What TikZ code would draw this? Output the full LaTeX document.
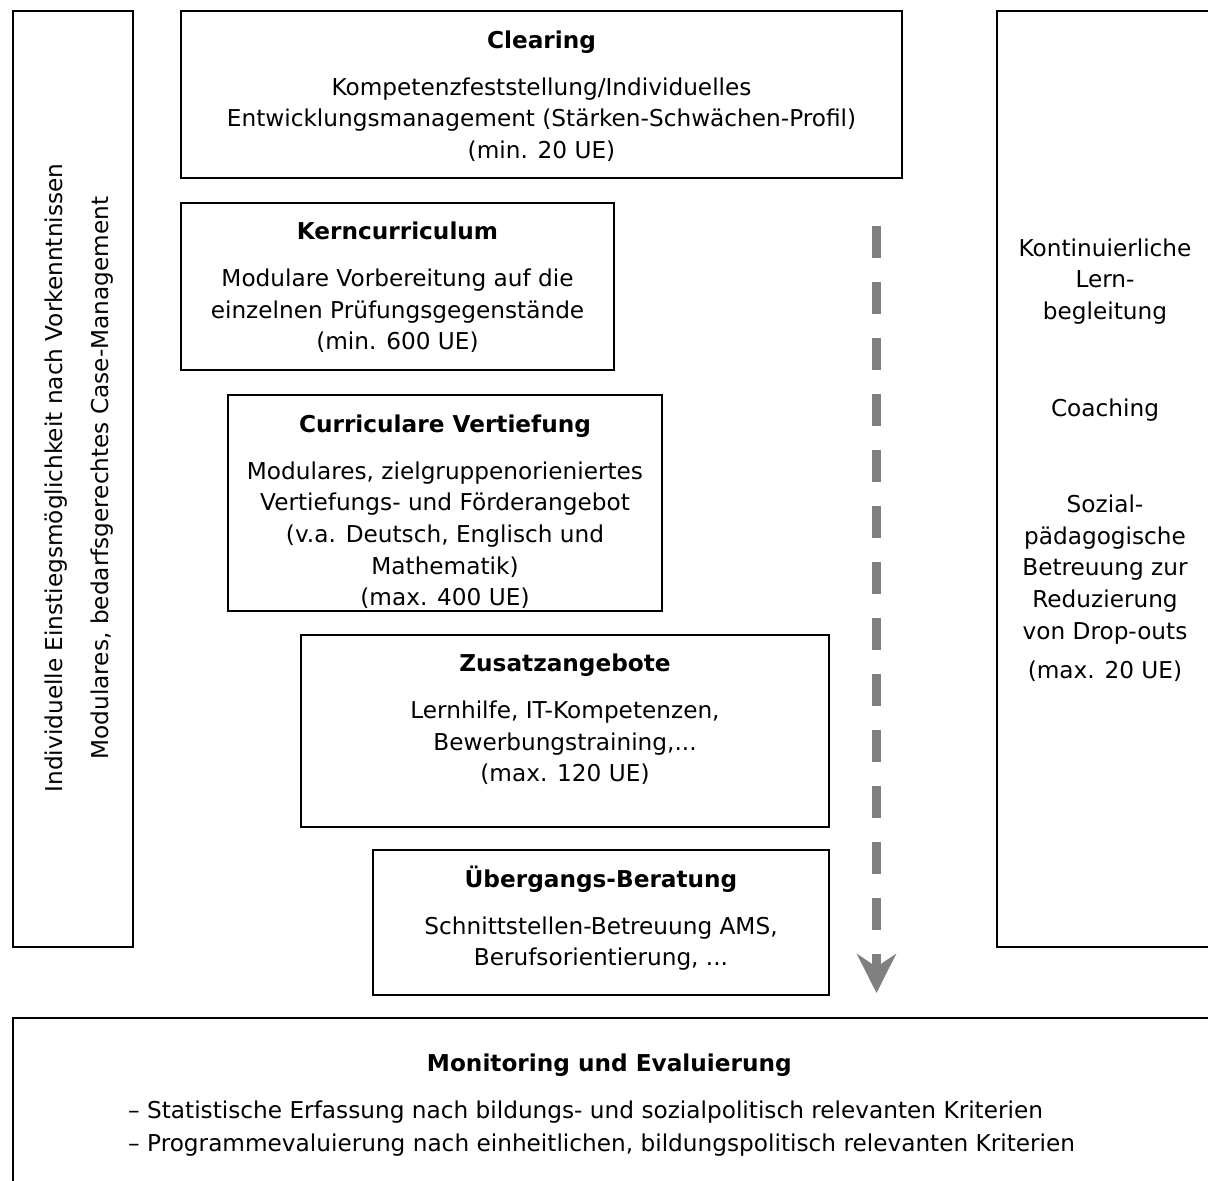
\documentclass[tikz,border=0pt]{standalone}
\usepackage{fontspec}
\setmainfont{DejaVu Sans}
\usepackage{tikz}
\usetikzlibrary{positioning, arrows.meta}

\newcommand{\firstline}{\rule{0pt}{22pt}}

\begin{document}
\begin{tikzpicture}[
            x = 1pt, y = -1pt,
            font = \fontsize{23.2pt}{31.6pt}\selectfont,
            block/.style = {
                draw,
                rectangle,
                line width = 2pt,
                anchor = north west,
                inner sep = 0pt
            },
            blocktext/.style = {
                align = center,
                anchor = north,
                inner sep = 0pt
            },
            sidetext/.style = {
                rotate = 90,
                anchor = base,
                inner sep = 0pt
            },
            flow/.style = {
                draw = black!50,
                line width = 8.3pt,
                dash pattern = on 32pt off 24pt,
                -{Stealth[length = 39pt, width = 39pt, inset = 13pt]}
            }
        ]
            \useasboundingbox (0,0) rectangle (1208,1181);

            % side columns
            \node[block, minimum width = 120pt, minimum height = 936pt] (entry) at (12,10) {};
            \node[sidetext] (entrytop) at (62,478) {Individuelle Einstiegsmöglichkeit nach Vorkenntnissen};
            \node[sidetext] (entrybot) at (108,478) {Modulares, bedarfsgerechtes Case-Management};

            \node[block, minimum width = 216pt, minimum height = 936pt] (support) at (996,10) {};
            \node[blocktext, below = 224pt of support.north] (supporttext) {
                \firstline Kontinuierliche \\
                Lern- \\
                begleitung \\[65pt]
                Coaching \\[65pt]
                Sozial- \\
                pädagogische \\
                Betreuung zur \\
                Reduzierung \\
                von Drop-outs \\[7.4pt]
                (max. 20 UE)
            };

            % modules
            \node[block, minimum width = 721pt, minimum height = 167pt] (clearing) at (180,10) {};
            \node[blocktext, below = 16pt of clearing.north] (clearingtext) {
                \firstline\textbf{Clearing} \\[15.4pt]
                Kompetenzfeststellung/Individuelles \\
                Entwicklungsmanagement (Stärken-Schwächen-Profil) \\
                (min. 20 UE)
            };

            \node[block, minimum width = 433pt, minimum height = 167pt] (core) at (180,202) {};
            \node[blocktext, below = 15.5pt of core.north] (coretext) {
                \firstline\textbf{Kerncurriculum} \\[15.4pt]
                Modulare Vorbereitung auf die \\
                einzelnen Prüfungsgegenstände \\
                (min. 600 UE)
            };

            \node[block, minimum width = 434pt, minimum height = 216pt] (deepen) at (227,394) {};
            \node[blocktext, below = 16pt of deepen.north] (deepentext) {
                \firstline\textbf{Curriculare Vertiefung} \\[15.4pt]
                Modulares, zielgruppenorieniertes \\
                Vertiefungs- und Förderangebot \\
                (v.a. Deutsch, Englisch und \\
                Mathematik) \\
                (max. 400 UE)
            };

            \node[block, minimum width = 528pt, minimum height = 192pt] (extra) at (300,634) {};
            \node[blocktext, below = 15.5pt of extra.north] (extratext) {
                \firstline\textbf{Zusatzangebote} \\[15.4pt]
                Lernhilfe, IT-Kompetenzen, \\
                Bewerbungstraining,... \\
                (max. 120 UE)
            };

            \node[block, minimum width = 456pt, minimum height = 145pt] (transit) at (372,849) {};
            \node[blocktext, below = 16pt of transit.north] (transittext) {
                \firstline\textbf{Übergangs-Beratung} \\[15.4pt]
                Schnittstellen-Betreuung AMS, \\
                Berufsorientierung, ...
            };

            % monitoring
            \node[block, minimum width = 1200pt, minimum height = 200pt] (monitor) at (12,1017) {};
            \node[blocktext, below = 32pt of monitor.north] (monitortitle) {
                \firstline\textbf{Monitoring und Evaluierung}
            };
            \node[blocktext, align = left, anchor = north west] (monitortext) at (128,1096) {
                \firstline – Statistische Erfassung nach bildungs- und sozialpolitisch relevanten Kriterien \\[1.4pt]
                – Programmevaluierung nach einheitlichen, bildungspolitisch relevanten Kriterien
            };

            % flow arrow
            \coordinate (flowstart) at (876.5,226);
            \coordinate (flowend) at (876.5,993);
            \draw[flow] (flowstart) -- (flowend);
        \end{tikzpicture}
\end{document}
